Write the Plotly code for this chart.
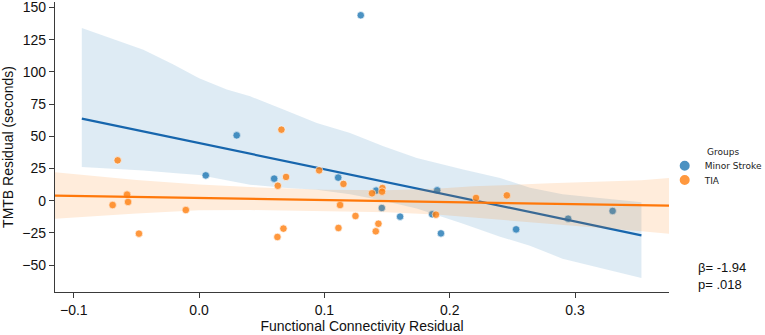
import plotly.graph_objects as go

# ---- data ----
stroke_x = [0.030, 0.0053, 0.129, 0.0599, 0.111, 0.1413, 0.1458, 0.1604, 0.190, 0.186, 0.193, 0.253, 0.2945, 0.330]
stroke_y = [50.7, 19.6, 143.9, 17.1, 17.9, 7.8, -5.7, -12.4, 8.0, -10.6, -25.4, -22.3, -14.0, -8.0]

tia_x = [-0.065, -0.0575, -0.069, -0.0567, -0.0106, -0.048, 0.0657, 0.0628, 0.0694, 0.0958, 0.1152, 0.138,
         0.1463, 0.146, 0.1125, 0.1248, 0.1431, 0.141, 0.1112, 0.0673, 0.0625, 0.189, 0.221, 0.2456]
tia_y = [31.3, 4.7, -3.4, -1.0, -7.3, -25.6, 55.1, 11.6, 18.4, 23.5, 13.0, 5.7,
         9.8, 7.0, -3.4, -11.9, -17.9, -23.8, -21.2, -21.7, -28.2, -10.9, 2.1, 4.1]

# regression lines (end points)
stroke_fit_x = [-0.0936, 0.353]
stroke_fit_y = [63.7, -26.9]
tia_fit_x = [-0.115, 0.375]
tia_fit_y = [3.9, -3.9]

# confidence bands
stroke_band_x = [-0.0936, -0.0445, -0.0205, 0.0, 0.0221, 0.0407, 0.0673, 0.0939, 0.1205, 0.1471,
                 0.1737, 0.2107, 0.2402, 0.264, 0.29, 0.353]
stroke_band_hi = [134, 117.2, 105.6, 95, 86.2, 81, 70.7, 60.3, 52.6, 42.2,
                  33.1, 24.1, 17.6, 10, 5, -1.3]
stroke_band_lo = [26.1, 23.5, 21.5, 20, 16, 12.4, 10, 8.5, 5, 0,
                  -6, -18, -28, -35, -45, -60]

tia_band_x = [-0.115, -0.05, 0.0, 0.0407, 0.1, 0.15, 0.192, 0.219, 0.28, 0.353, 0.375]
tia_band_hi = [22.0, 16.0, 12.5, 10.6, 8.5, 8.0, 9.5, 11.1, 13.5, 15.8, 17.6]
tia_band_lo = [-14.0, -10.0, -7.5, -7.3, -8.0, -9.0, -11.0, -13.4, -18.0, -23.8, -25.6]

x_ticks = [-0.1, 0.0, 0.1, 0.2, 0.3]
y_ticks = [-50, -25, 0, 25, 50, 75, 100, 125, 150]

BLUE = "#1f77b4"
ORANGE = "#ff7f0e"

fig = go.Figure()


def add_group(name, legend_id, xs, ys, fx, fy, bx, bhi, blo, color, line_color, band_rgba):
    fig.add_trace(go.Scatter(
        x=xs, y=ys, mode="markers", name=name, legend=legend_id,
        marker=dict(color=color, opacity=0.8, size=7.5, line=dict(color="white", width=0.7)),
    ))
    fig.add_trace(go.Scatter(
        x=list(bx) + list(bx)[::-1], y=list(bhi) + list(blo)[::-1],
        fill="toself", fillcolor=band_rgba, line=dict(width=0), mode="lines",
        showlegend=False, hoverinfo="skip",
    ))
    fig.add_trace(go.Scatter(
        x=fx, y=fy, mode="lines", line=dict(color=line_color, width=2.2),
        showlegend=False,
    ))


add_group("Minor Stroke", "legend", stroke_x, stroke_y, stroke_fit_x, stroke_fit_y,
          stroke_band_x, stroke_band_hi, stroke_band_lo, BLUE, "#1766ad", "rgba(31,119,180,0.15)")
add_group("TIA", "legend2", tia_x, tia_y, tia_fit_x, tia_fit_y,
          tia_band_x, tia_band_hi, tia_band_lo, ORANGE, "#ff780a", "rgba(255,127,14,0.15)")

FONT = "Liberation Sans, Arial, sans-serif"
axis_common = dict(
    showgrid=False, zeroline=False, showline=True, linecolor="#3a3a3a", linewidth=1.2,
    ticks="outside", ticklen=5, tickwidth=1.1, tickcolor="#3a3a3a",
    tickfont=dict(family=FONT, size=14, color="#111"),
    mirror=False, automargin=False, ticklabeloverflow="allow",
)

legend_common = dict(
    x=0.993, xanchor="left", yanchor="middle",
    font=dict(family="DejaVu Sans, sans-serif", size=9, color="#222"),
    bgcolor="rgba(0,0,0,0)", itemsizing="constant",
)

fig.update_layout(
    template="none",
    width=765, height=335,
    margin=dict(l=55, r=96, t=2, b=43, autoexpand=False),
    paper_bgcolor="white", plot_bgcolor="white",
    xaxis=dict(range=[-0.115, 0.375], tickvals=x_ticks, tickformat=".1f",
               title=dict(text="Functional Connectivity Residual", standoff=4,
                          font=dict(family=FONT, size=14, color="#111")),
               **axis_common),
    yaxis=dict(range=[-70.9, 154.2], tickvals=y_ticks,
               title=dict(text="TMTB Residual (seconds)", standoff=6,
                          font=dict(family=FONT, size=14, color="#111")),
               **axis_common),
    legend=dict(y=0.4355, **legend_common),
    legend2=dict(y=0.386, **legend_common),
    showlegend=True,
    annotations=[
        dict(text="Groups", xref="paper", yref="paper", x=1.0586, y=0.4838,
             xanchor="left", yanchor="middle", showarrow=False,
             font=dict(family="DejaVu Sans, sans-serif", size=9, color="#222")),
        dict(text="β= -1.94<br>p= .018", xref="paper", yref="paper", x=1.044, y=0.056,
             xanchor="left", yanchor="middle", showarrow=False, align="left",
             font=dict(family=FONT, size=13, color="#111")),
    ],
)

# remove the browser's default page margin so the 765x335 figure fills the window exactly
fig.write_html("out.html", config={"displayModeBar": False},
               post_script="document.body.style.margin='0';")
